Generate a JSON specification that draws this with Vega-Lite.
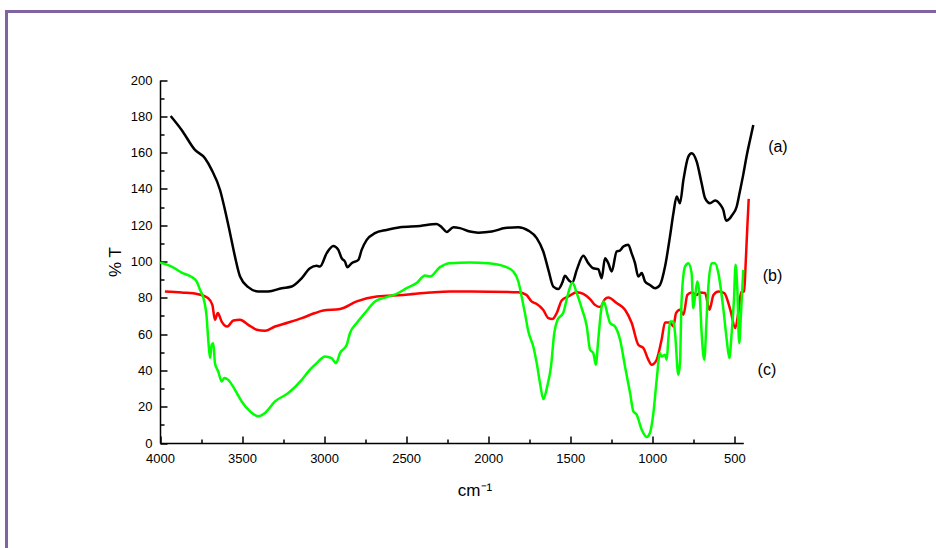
{
  "$schema": "https://vega.github.io/schema/vega-lite/v6.json",
  "width": 940,
  "height": 540,
  "autosize": {"type": "none"},
  "padding": {"left": 6.5, "top": 11.5, "right": 0, "bottom": 0},
  "background": "#ffffff",
  "config": {
    "view": {"stroke": "#8064A2", "strokeWidth": 3},
    "font": "Liberation Sans",
    "axis": {
      "grid": false,
      "domainColor": "#000000",
      "domainWidth": 1.5,
      "tickColor": "#000000",
      "tickWidth": 1.5,
      "labelColor": "#000000",
      "labelFont": "Liberation Sans",
      "labelFontSize": 13,
      "labelFlush": false,
      "labelOverlap": false,
      "format": "d",
      "titleColor": "#000000",
      "titleFont": "Liberation Sans",
      "titleFontWeight": "normal",
      "titleFontSize": 17
    }
  },
  "datasets": {
    "spectra": [
      {"s": "a", "wn": 3935, "t": 180.2}, {"s": "a", "wn": 3868, "t": 172.5}, {"s": "a", "wn": 3787, "t": 161.5},
      {"s": "a", "wn": 3726, "t": 156.9}, {"s": "a", "wn": 3685, "t": 150.5}, {"s": "a", "wn": 3634, "t": 139.4},
      {"s": "a", "wn": 3604, "t": 128.4}, {"s": "a", "wn": 3573, "t": 115.6}, {"s": "a", "wn": 3543, "t": 102.7},
      {"s": "a", "wn": 3512, "t": 91.7}, {"s": "a", "wn": 3462, "t": 85.9}, {"s": "a", "wn": 3401, "t": 83.5},
      {"s": "a", "wn": 3340, "t": 83.5}, {"s": "a", "wn": 3258, "t": 85.3}, {"s": "a", "wn": 3197, "t": 86.2},
      {"s": "a", "wn": 3136, "t": 90.8}, {"s": "a", "wn": 3086, "t": 96.3}, {"s": "a", "wn": 3045, "t": 97.6},
      {"s": "a", "wn": 3025, "t": 97.2}, {"s": "a", "wn": 2984, "t": 104.6}, {"s": "a", "wn": 2944, "t": 108.6},
      {"s": "a", "wn": 2913, "t": 106.4}, {"s": "a", "wn": 2893, "t": 101.8}, {"s": "a", "wn": 2873, "t": 100},
      {"s": "a", "wn": 2858, "t": 96.9}, {"s": "a", "wn": 2832, "t": 99.1}, {"s": "a", "wn": 2791, "t": 100.9},
      {"s": "a", "wn": 2771, "t": 106.4}, {"s": "a", "wn": 2740, "t": 111.9}, {"s": "a", "wn": 2690, "t": 115.6},
      {"s": "a", "wn": 2619, "t": 117.4}, {"s": "a", "wn": 2537, "t": 118.9}, {"s": "a", "wn": 2415, "t": 119.6},
      {"s": "a", "wn": 2314, "t": 120.7}, {"s": "a", "wn": 2283, "t": 118.9}, {"s": "a", "wn": 2253, "t": 116.3},
      {"s": "a", "wn": 2212, "t": 118.9}, {"s": "a", "wn": 2172, "t": 118.4}, {"s": "a", "wn": 2111, "t": 116.5},
      {"s": "a", "wn": 2060, "t": 115.9}, {"s": "a", "wn": 1978, "t": 116.5}, {"s": "a", "wn": 1897, "t": 118.4},
      {"s": "a", "wn": 1816, "t": 118.9}, {"s": "a", "wn": 1755, "t": 117}, {"s": "a", "wn": 1704, "t": 112.9},
      {"s": "a", "wn": 1664, "t": 105.5}, {"s": "a", "wn": 1633, "t": 95.4}, {"s": "a", "wn": 1603, "t": 86.2},
      {"s": "a", "wn": 1572, "t": 84.9}, {"s": "a", "wn": 1548, "t": 88.4}, {"s": "a", "wn": 1532, "t": 92.1},
      {"s": "a", "wn": 1507, "t": 89.5}, {"s": "a", "wn": 1487, "t": 88.4}, {"s": "a", "wn": 1460, "t": 95.4},
      {"s": "a", "wn": 1420, "t": 103.1}, {"s": "a", "wn": 1390, "t": 99.1}, {"s": "a", "wn": 1359, "t": 96.3},
      {"s": "a", "wn": 1329, "t": 95.8}, {"s": "a", "wn": 1308, "t": 90.8}, {"s": "a", "wn": 1288, "t": 101.8},
      {"s": "a", "wn": 1268, "t": 99.1}, {"s": "a", "wn": 1247, "t": 94.5}, {"s": "a", "wn": 1217, "t": 105.5},
      {"s": "a", "wn": 1197, "t": 106}, {"s": "a", "wn": 1176, "t": 108.2}, {"s": "a", "wn": 1146, "t": 109.2},
      {"s": "a", "wn": 1126, "t": 104.6}, {"s": "a", "wn": 1105, "t": 99.1}, {"s": "a", "wn": 1085, "t": 91.7},
      {"s": "a", "wn": 1064, "t": 93.6}, {"s": "a", "wn": 1044, "t": 89}, {"s": "a", "wn": 1014, "t": 87.1},
      {"s": "a", "wn": 983, "t": 85.3}, {"s": "a", "wn": 953, "t": 87.1}, {"s": "a", "wn": 922, "t": 97.2},
      {"s": "a", "wn": 892, "t": 113.7}, {"s": "a", "wn": 871, "t": 126.6}, {"s": "a", "wn": 851, "t": 135.8},
      {"s": "a", "wn": 831, "t": 132.1}, {"s": "a", "wn": 810, "t": 144.9}, {"s": "a", "wn": 780, "t": 157.8},
      {"s": "a", "wn": 760, "t": 159.6}, {"s": "a", "wn": 729, "t": 155}, {"s": "a", "wn": 699, "t": 143.1},
      {"s": "a", "wn": 678, "t": 134.9}, {"s": "a", "wn": 648, "t": 132.1}, {"s": "a", "wn": 617, "t": 133.6},
      {"s": "a", "wn": 587, "t": 131.5}, {"s": "a", "wn": 567, "t": 128.4}, {"s": "a", "wn": 550, "t": 122.5},
      {"s": "a", "wn": 530, "t": 123.5}, {"s": "a", "wn": 516, "t": 125.2}, {"s": "a", "wn": 485, "t": 130.3},
      {"s": "a", "wn": 465, "t": 139}, {"s": "a", "wn": 445, "t": 148}, {"s": "a", "wn": 425, "t": 158},
      {"s": "a", "wn": 404, "t": 167}, {"s": "a", "wn": 384, "t": 175.2},

      {"s": "b", "wn": 3970, "t": 83.5}, {"s": "b", "wn": 3868, "t": 82.9}, {"s": "b", "wn": 3767, "t": 82},
      {"s": "b", "wn": 3706, "t": 79.8}, {"s": "b", "wn": 3681, "t": 76.1}, {"s": "b", "wn": 3665, "t": 67.9},
      {"s": "b", "wn": 3648, "t": 71.6}, {"s": "b", "wn": 3624, "t": 66.9}, {"s": "b", "wn": 3590, "t": 64.2},
      {"s": "b", "wn": 3553, "t": 67.5}, {"s": "b", "wn": 3512, "t": 67.9}, {"s": "b", "wn": 3462, "t": 65.1},
      {"s": "b", "wn": 3411, "t": 62.4}, {"s": "b", "wn": 3360, "t": 61.8}, {"s": "b", "wn": 3299, "t": 64.2},
      {"s": "b", "wn": 3218, "t": 66.4}, {"s": "b", "wn": 3136, "t": 68.8}, {"s": "b", "wn": 3055, "t": 71.6},
      {"s": "b", "wn": 3005, "t": 73}, {"s": "b", "wn": 2903, "t": 73.8}, {"s": "b", "wn": 2801, "t": 78},
      {"s": "b", "wn": 2679, "t": 80.7}, {"s": "b", "wn": 2517, "t": 81.6}, {"s": "b", "wn": 2355, "t": 82.9},
      {"s": "b", "wn": 2233, "t": 83.5}, {"s": "b", "wn": 2111, "t": 83.5}, {"s": "b", "wn": 1816, "t": 83.1},
      {"s": "b", "wn": 1767, "t": 81.6}, {"s": "b", "wn": 1736, "t": 78}, {"s": "b", "wn": 1706, "t": 76.7},
      {"s": "b", "wn": 1665, "t": 73.4}, {"s": "b", "wn": 1633, "t": 68.8}, {"s": "b", "wn": 1609, "t": 68.3},
      {"s": "b", "wn": 1582, "t": 71.6}, {"s": "b", "wn": 1552, "t": 78.5}, {"s": "b", "wn": 1512, "t": 80.7},
      {"s": "b", "wn": 1460, "t": 83.1}, {"s": "b", "wn": 1420, "t": 82.2}, {"s": "b", "wn": 1379, "t": 79.3},
      {"s": "b", "wn": 1349, "t": 76.1}, {"s": "b", "wn": 1318, "t": 74.9}, {"s": "b", "wn": 1288, "t": 79.3},
      {"s": "b", "wn": 1268, "t": 80.2}, {"s": "b", "wn": 1217, "t": 77.1}, {"s": "b", "wn": 1166, "t": 73.4},
      {"s": "b", "wn": 1125, "t": 66.1}, {"s": "b", "wn": 1085, "t": 54.1}, {"s": "b", "wn": 1054, "t": 52.3},
      {"s": "b", "wn": 1024, "t": 45.9}, {"s": "b", "wn": 1004, "t": 43.1}, {"s": "b", "wn": 973, "t": 45.9},
      {"s": "b", "wn": 943, "t": 56.9}, {"s": "b", "wn": 922, "t": 66.4}, {"s": "b", "wn": 892, "t": 66.4},
      {"s": "b", "wn": 871, "t": 64.2}, {"s": "b", "wn": 855, "t": 71.6}, {"s": "b", "wn": 831, "t": 73.4},
      {"s": "b", "wn": 810, "t": 70.6}, {"s": "b", "wn": 786, "t": 81.6}, {"s": "b", "wn": 760, "t": 82.9},
      {"s": "b", "wn": 729, "t": 81.6}, {"s": "b", "wn": 708, "t": 82.9}, {"s": "b", "wn": 678, "t": 82.6},
      {"s": "b", "wn": 651, "t": 73.4}, {"s": "b", "wn": 627, "t": 81.6}, {"s": "b", "wn": 596, "t": 83.5},
      {"s": "b", "wn": 561, "t": 82.6}, {"s": "b", "wn": 524, "t": 73.4}, {"s": "b", "wn": 494, "t": 63.3},
      {"s": "b", "wn": 475, "t": 72}, {"s": "b", "wn": 458, "t": 83}, {"s": "b", "wn": 440, "t": 83.5},
      {"s": "b", "wn": 430, "t": 100}, {"s": "b", "wn": 420, "t": 120}, {"s": "b", "wn": 412, "t": 134.5},

      {"s": "c", "wn": 4000, "t": 99.4}, {"s": "c", "wn": 3929, "t": 97.2}, {"s": "c", "wn": 3868, "t": 93.9},
      {"s": "c", "wn": 3807, "t": 91.4}, {"s": "c", "wn": 3777, "t": 89}, {"s": "c", "wn": 3756, "t": 84.4},
      {"s": "c", "wn": 3730, "t": 78}, {"s": "c", "wn": 3716, "t": 69.7}, {"s": "c", "wn": 3706, "t": 56.9},
      {"s": "c", "wn": 3695, "t": 46.8}, {"s": "c", "wn": 3685, "t": 54.1}, {"s": "c", "wn": 3675, "t": 55},
      {"s": "c", "wn": 3665, "t": 44}, {"s": "c", "wn": 3645, "t": 39.4}, {"s": "c", "wn": 3624, "t": 33.9},
      {"s": "c", "wn": 3608, "t": 35.8}, {"s": "c", "wn": 3584, "t": 34.8}, {"s": "c", "wn": 3543, "t": 29.3},
      {"s": "c", "wn": 3502, "t": 22.9}, {"s": "c", "wn": 3451, "t": 17.4}, {"s": "c", "wn": 3401, "t": 14.7},
      {"s": "c", "wn": 3360, "t": 16.5}, {"s": "c", "wn": 3299, "t": 22.9}, {"s": "c", "wn": 3218, "t": 27.5},
      {"s": "c", "wn": 3136, "t": 34.8}, {"s": "c", "wn": 3086, "t": 40.4}, {"s": "c", "wn": 3045, "t": 44},
      {"s": "c", "wn": 2994, "t": 47.7}, {"s": "c", "wn": 2954, "t": 46.8}, {"s": "c", "wn": 2927, "t": 44},
      {"s": "c", "wn": 2903, "t": 49.5}, {"s": "c", "wn": 2862, "t": 54.1}, {"s": "c", "wn": 2842, "t": 60.6},
      {"s": "c", "wn": 2801, "t": 66.1}, {"s": "c", "wn": 2751, "t": 71.6}, {"s": "c", "wn": 2690, "t": 78},
      {"s": "c", "wn": 2619, "t": 80.4}, {"s": "c", "wn": 2558, "t": 82.2}, {"s": "c", "wn": 2497, "t": 85.3},
      {"s": "c", "wn": 2436, "t": 88.1}, {"s": "c", "wn": 2385, "t": 92.3}, {"s": "c", "wn": 2355, "t": 91.7},
      {"s": "c", "wn": 2294, "t": 96.9}, {"s": "c", "wn": 2233, "t": 99.1}, {"s": "c", "wn": 2111, "t": 99.4},
      {"s": "c", "wn": 2000, "t": 99.1}, {"s": "c", "wn": 1897, "t": 97.2}, {"s": "c", "wn": 1847, "t": 94.5},
      {"s": "c", "wn": 1816, "t": 89}, {"s": "c", "wn": 1796, "t": 80.7}, {"s": "c", "wn": 1776, "t": 71.6},
      {"s": "c", "wn": 1755, "t": 61.4}, {"s": "c", "wn": 1725, "t": 53.2}, {"s": "c", "wn": 1704, "t": 44},
      {"s": "c", "wn": 1684, "t": 33}, {"s": "c", "wn": 1664, "t": 24.2}, {"s": "c", "wn": 1640, "t": 31.2},
      {"s": "c", "wn": 1617, "t": 42.2}, {"s": "c", "wn": 1597, "t": 60.6}, {"s": "c", "wn": 1577, "t": 67.9},
      {"s": "c", "wn": 1543, "t": 71.6}, {"s": "c", "wn": 1512, "t": 82.6}, {"s": "c", "wn": 1487, "t": 88.4},
      {"s": "c", "wn": 1460, "t": 82.6}, {"s": "c", "wn": 1430, "t": 74.3}, {"s": "c", "wn": 1399, "t": 64.2},
      {"s": "c", "wn": 1379, "t": 51.4}, {"s": "c", "wn": 1359, "t": 49.5}, {"s": "c", "wn": 1344, "t": 43.1},
      {"s": "c", "wn": 1329, "t": 56.9}, {"s": "c", "wn": 1308, "t": 75.2}, {"s": "c", "wn": 1295, "t": 78},
      {"s": "c", "wn": 1272, "t": 70.6}, {"s": "c", "wn": 1257, "t": 66.1}, {"s": "c", "wn": 1227, "t": 64.2},
      {"s": "c", "wn": 1196, "t": 56.9}, {"s": "c", "wn": 1166, "t": 42.2}, {"s": "c", "wn": 1135, "t": 27.5},
      {"s": "c", "wn": 1115, "t": 17.4}, {"s": "c", "wn": 1095, "t": 15.6}, {"s": "c", "wn": 1064, "t": 7.3},
      {"s": "c", "wn": 1034, "t": 3.3}, {"s": "c", "wn": 1014, "t": 5.5}, {"s": "c", "wn": 993, "t": 16.5},
      {"s": "c", "wn": 973, "t": 34.8}, {"s": "c", "wn": 953, "t": 49.5}, {"s": "c", "wn": 943, "t": 47.7},
      {"s": "c", "wn": 922, "t": 48.6}, {"s": "c", "wn": 912, "t": 45.9}, {"s": "c", "wn": 902, "t": 56.9},
      {"s": "c", "wn": 892, "t": 66.9}, {"s": "c", "wn": 871, "t": 66.9}, {"s": "c", "wn": 861, "t": 60.6},
      {"s": "c", "wn": 841, "t": 37.6}, {"s": "c", "wn": 831, "t": 44}, {"s": "c", "wn": 821, "t": 78.9},
      {"s": "c", "wn": 800, "t": 97.2}, {"s": "c", "wn": 780, "t": 99.1}, {"s": "c", "wn": 760, "t": 93.6},
      {"s": "c", "wn": 750, "t": 74.3}, {"s": "c", "wn": 739, "t": 80.7}, {"s": "c", "wn": 725, "t": 89},
      {"s": "c", "wn": 709, "t": 78.9}, {"s": "c", "wn": 699, "t": 60.6}, {"s": "c", "wn": 683, "t": 45.9},
      {"s": "c", "wn": 668, "t": 69.7}, {"s": "c", "wn": 658, "t": 86.2}, {"s": "c", "wn": 638, "t": 99.1},
      {"s": "c", "wn": 617, "t": 99.1}, {"s": "c", "wn": 597, "t": 93.6}, {"s": "c", "wn": 566, "t": 73.4},
      {"s": "c", "wn": 546, "t": 56.9}, {"s": "c", "wn": 530, "t": 46.8}, {"s": "c", "wn": 516, "t": 60.6},
      {"s": "c", "wn": 502, "t": 78.9}, {"s": "c", "wn": 492, "t": 98.2}, {"s": "c", "wn": 482, "t": 86.2},
      {"s": "c", "wn": 470, "t": 55}, {"s": "c", "wn": 459, "t": 71.6}, {"s": "c", "wn": 445, "t": 95.4}
    ],
    "tags": [
      {"label": "(a)", "wn": 234, "t": 163.3},
      {"label": "(b)", "wn": 267, "t": 92.1},
      {"label": "(c)", "wn": 301, "t": 40.4}
    ]
  },
  "resolve": {"axis": {"x": "independent", "y": "independent"}},
  "layer": [
    {
      "data": {"name": "spectra"},
      "mark": {"type": "line", "strokeWidth": 2.5, "interpolate": "monotone", "clip": false},
      "encoding": {
        "x": {
          "field": "wn",
          "type": "quantitative",
          "scale": {"domain": [445, 4000], "range": [736.8, 153.5], "nice": false, "zero": false},
          "axis": {
            "orient": "bottom",
            "offset": -108.5,
            "values": [4000, 3500, 3000, 2500, 2000, 1500, 1000, 500],
            "tickSize": -7,
            "labelPadding": 16,
            "title": "cm⁻¹",
            "titleFontSize": 17,
            "titlePadding": 17,
            "titleX": 468
          }
        },
        "y": {
          "field": "t",
          "type": "quantitative",
          "scale": {"domain": [0, 200], "range": [431.5, 68.5], "nice": false, "zero": false},
          "axis": {
            "orient": "left",
            "offset": -153.5,
            "values": [0, 20, 40, 60, 80, 100, 120, 140, 160, 180, 200],
            "tickSize": -7,
            "labelPadding": 15,
            "title": "% T",
            "titleFontSize": 17,
            "titlePadding": 6
          }
        },
        "color": {
          "field": "s",
          "type": "nominal",
          "scale": {"domain": ["a", "b", "c"], "range": ["#000000", "#ff0000", "#00ff00"]},
          "legend": null
        }
      }
    },
    {
      "data": {"name": "tags"},
      "mark": {"type": "text", "fontSize": 16, "font": "Liberation Sans", "color": "#000000", "align": "center", "baseline": "middle"},
      "encoding": {
        "x": {
          "field": "wn",
          "type": "quantitative",
          "scale": {"domain": [445, 4000], "range": [736.8, 153.5], "nice": false, "zero": false},
          "axis": {
            "orient": "bottom",
            "offset": -108.5,
            "values": [3750, 3250, 2750, 2250, 1750, 1250, 750],
            "tickSize": -4,
            "labels": false,
            "domain": false,
            "title": null
          }
        },
        "y": {
          "field": "t",
          "type": "quantitative",
          "scale": {"domain": [0, 200], "range": [431.5, 68.5], "nice": false, "zero": false},
          "axis": {
            "orient": "left",
            "offset": -153.5,
            "values": [10, 30, 50, 70, 90, 110, 130, 150, 170, 190],
            "tickSize": -4,
            "labels": false,
            "domain": false,
            "title": null
          }
        },
        "text": {"field": "label"}
      }
    }
  ]
}
